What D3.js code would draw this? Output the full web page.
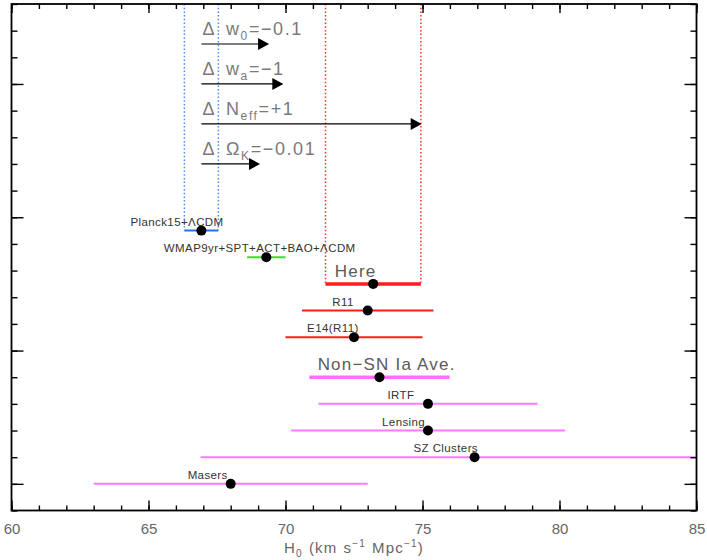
<!DOCTYPE html>
<html>
<head>
<meta charset="utf-8">
<script src="https://cdn.jsdelivr.net/npm/d3@7"></script>
<style>
  body { margin: 0; background: #fff; }
  text { font-family: "Liberation Sans", Arial, sans-serif; }
</style>
</head>
<body>
<div class="chart"></div>
<script>
// measurements, top to bottom
const labels = ["Planck15+ΛCDM", "WMAP9yr+SPT+ACT+BAO+ΛCDM", "Here", "R11", "E14(R11)",
  "Non\u2212SN Ia Ave.", "IRTF", "Lensing", "SZ Clusters", "Masers"];
const h0 = [66.93, 69.3, 73.2, 73.0, 72.5, 73.43, 75.2, 75.2, 76.9, 68.0];
const err = [0.62, 0.7, 1.74, 2.4, 2.5, 2.56, 4.0, 5.0, 10.0, 5.0];
const rows = [9.5, 8.5, 7.5, 6.5, 5.5, 4, 3, 2, 1, 0];
const kind = ["planck", "wmap", "here", "sn", "sn", "avg", "other", "other", "other", "other"];
const labelAt = [66.04, 69.06, 72.56, 72.1, 71.73, 73.69, 74.21, 74.31, 75.85, 67.16];

// parameter shifts starting from Planck
const arrowSym = ["w", "w", "N", "Ω"];
const arrowSub = ["0", "a", "eff", "K"];
const arrowVal = ["=\u22120.1", "=\u22121", "=+1", "=\u22120.01"];
const arrowEnd = [69.4, 69.92, 74.97, 69.07];
const arrowRow = [16.5, 15, 13.5, 12];

const xTicks = [60, 65, 70, 75, 80, 85];

const width = 707, height = 560;
const mLeft = 11.5, mRight = 696.5, mTop = 4, mBottom = 510.5;

const colors = { planck: "#2176e6", wmap: "#3ee01c", here: "#ff1c1c", sn: "#ff1c1c", avg: "#ff70ff", other: "#ff78ff" };
const widths = { planck: 2, wmap: 2, here: 3.5, sn: 2, avg: 3.5, other: 2 };

const svg = d3.select(".chart").append("svg")
  .attr("width", width)
  .attr("height", height);

const x = d3.scaleLinear().domain([60, 85]).range([mLeft, mRight]);
const y = d3.scaleLinear().domain([-1, 18]).range([mBottom, mTop]);

svg.append("defs").append("clipPath").attr("id", "clip")
  .append("rect").attr("x", mLeft).attr("y", mTop).attr("width", mRight - mLeft).attr("height", mBottom - mTop);
const plot = svg.append("g").attr("clip-path", "url(#clip)");

// dotted bands for Planck and Here
const bands = [
  { i: 0, color: "#4a8cf0" },
  { i: 2, color: "#ff2a2a" }
];
bands.forEach(b => {
  [h0[b.i] - err[b.i], h0[b.i] + err[b.i]].forEach(v => {
    plot.append("line")
      .attr("x1", x(v)).attr("x2", x(v))
      .attr("y1", mTop).attr("y2", y(rows[b.i]))
      .attr("stroke", b.color)
      .attr("stroke-width", 1.5)
      .attr("stroke-dasharray", "1.5,2.2");
  });
});

// error bars
plot.selectAll(".bar").data(h0).enter().append("line")
  .attr("class", "bar")
  .attr("x1", (d, i) => x(d - err[i]))
  .attr("x2", (d, i) => x(d + err[i]))
  .attr("y1", (d, i) => y(rows[i]))
  .attr("y2", (d, i) => y(rows[i]))
  .attr("stroke", (d, i) => colors[kind[i]])
  .attr("stroke-width", (d, i) => widths[kind[i]]);

plot.selectAll(".dot").data(h0).enter().append("circle")
  .attr("class", "dot")
  .attr("cx", d => x(d))
  .attr("cy", (d, i) => y(rows[i]))
  .attr("r", 5)
  .attr("fill", "#000");

// labels
const big = k => k == "here" || k == "avg";
svg.selectAll(".lab").data(labels).enter().append("text")
  .attr("class", "lab")
  .attr("x", (d, i) => x(labelAt[i]))
  .attr("y", (d, i) => y(rows[i]) - (big(kind[i]) ? 7 : 5))
  .attr("text-anchor", "middle")
  .attr("fill", (d, i) => big(kind[i]) ? "#5a5a5a" : "#333")
  .style("font-size", (d, i) => big(kind[i]) ? "17px" : "11.5px")
  .style("letter-spacing", (d, i) => big(kind[i]) ? "1.2px" : "0.4px")
  .text(d => d);

// arrows
arrowEnd.forEach((end, i) => {
  const yy = y(arrowRow[i]);
  const x0 = x(h0[0]), x1 = x(end);
  svg.append("line")
    .attr("x1", x0).attr("x2", x1 - 8)
    .attr("y1", yy).attr("y2", yy)
    .attr("stroke", "#000").attr("stroke-width", 1.2);
  svg.append("path")
    .attr("d", `M${x1},${yy} L${x1 - 11},${yy - 6} L${x1 - 11},${yy + 6} Z`)
    .attr("fill", "#000");

  const t = svg.append("text")
    .attr("x", x0 + 1)
    .attr("y", yy - 9)
    .attr("fill", "#7a7a7a")
    .style("font-size", "18px")
    .style("letter-spacing", "1.6px");
  t.append("tspan").text("Δ");
  t.append("tspan").attr("dx", 10).text(arrowSym[i]);
  t.append("tspan").attr("dy", 5).style("font-size", "12px").text(arrowSub[i]);
  t.append("tspan").attr("dy", -5).text(arrowVal[i]);
});

// axes
const bottomMinor = d3.axisBottom(x).tickValues(d3.range(60, 86)).tickSize(-5).tickFormat("");
const bottomMajor = d3.axisBottom(x).tickValues(xTicks).tickSize(-10).tickPadding(13).tickFormat(d3.format("d"));
const topMinor = d3.axisTop(x).tickValues(d3.range(60, 86)).tickSize(-5).tickFormat("");
const topMajor = d3.axisTop(x).tickValues(xTicks).tickSize(-9).tickFormat("");
const leftMinor = d3.axisLeft(y).tickValues(d3.range(-1, 19)).tickSize(-6).tickFormat("");
const leftMajor = d3.axisLeft(y).tickValues([0, 5, 10, 15]).tickSize(-12).tickFormat("");
const rightMinor = d3.axisRight(y).tickValues(d3.range(-1, 19)).tickSize(-6).tickFormat("");
const rightMajor = d3.axisRight(y).tickValues([0, 5, 10, 15]).tickSize(-12).tickFormat("");

function drawAxis(axis, tx, ty) {
  const g = svg.append("g").attr("transform", `translate(${tx},${ty})`).call(axis);
  g.select(".domain").remove();
  g.selectAll(".tick line").attr("stroke", "#000").attr("stroke-width", 1.4);
  return g;
}
drawAxis(bottomMinor, 0, mBottom);
const bx = drawAxis(bottomMajor, 0, mBottom);
bx.selectAll("text").attr("fill", "#666").style("font-size", "15px")
  .style("font-family", "'Liberation Sans', Arial, sans-serif");
drawAxis(topMinor, 0, mTop);
drawAxis(topMajor, 0, mTop);
drawAxis(leftMinor, mLeft, 0);
drawAxis(leftMajor, mLeft, 0);
drawAxis(rightMinor, mRight, 0);
drawAxis(rightMajor, mRight, 0);

svg.append("rect")
  .attr("x", mLeft).attr("y", mTop)
  .attr("width", mRight - mLeft).attr("height", mBottom - mTop)
  .attr("fill", "none")
  .attr("stroke", "#000")
  .attr("stroke-width", 1.8);

// x axis title
const title = svg.append("text")
  .attr("x", (mLeft + mRight) / 2)
  .attr("y", 553)
  .attr("text-anchor", "middle")
  .attr("fill", "#666")
  .style("font-size", "15px")
  .style("letter-spacing", "1.2px");
title.append("tspan").text("H");
title.append("tspan").attr("dy", 4).style("font-size", "10px").text("0");
title.append("tspan").attr("dy", -4).attr("dx", 6).text("(km");
title.append("tspan").attr("dx", 6).text("s");
title.append("tspan").attr("dy", -6).style("font-size", "10px").text("\u22121");
title.append("tspan").attr("dy", 6).attr("dx", 6).text("Mpc");
title.append("tspan").attr("dy", -6).style("font-size", "10px").text("\u22121");
title.append("tspan").attr("dy", 6).text(")");
</script>
</body>
</html>
